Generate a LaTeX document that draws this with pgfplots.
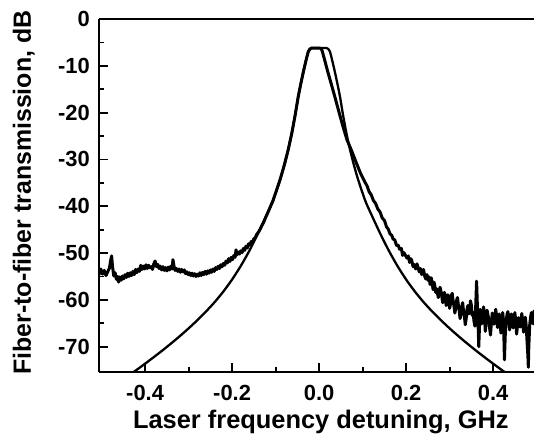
\documentclass[border=0pt]{standalone}
\usepackage{pgfplots}
\usepackage{pgfplotstable}
\pgfplotsset{compat=1.18}
\usepackage{fontspec}
\setmainfont{Liberation Sans}

% theory (smooth, symmetric)
\pgfplotstableread{
x y
-0.44 -76.30
-0.42 -74.98
-0.40 -73.62
-0.38 -72.22
-0.36 -70.78
-0.34 -69.28
-0.32 -67.72
-0.30 -66.08
-0.28 -64.34
-0.26 -62.48
-0.24 -60.46
-0.22 -58.20
-0.20 -55.64
-0.18 -52.74
-0.16 -49.44
-0.14 -45.74
-0.12 -41.74
-0.106 -38.8
-0.090 -34.4
-0.080 -31.2
-0.071 -27.9
-0.063 -24.5
-0.055 -20.5
-0.048 -16.6
-0.042 -13.8
-0.036 -11.2
-0.030 -8.8
-0.025 -7.0
-0.021 -6.4
-0.017 -6.2
0.000 -6.2
0.017 -6.2
0.021 -6.4
0.025 -7.0
0.030 -8.8
0.036 -11.2
0.042 -13.8
0.048 -16.6
0.055 -20.5
0.063 -24.5
0.071 -27.9
0.080 -31.2
0.090 -34.4
0.106 -38.8
0.12 -41.74
0.14 -45.74
0.16 -49.44
0.18 -52.74
0.20 -55.64
0.22 -58.20
0.24 -60.46
0.26 -62.48
0.28 -64.34
0.30 -66.08
0.32 -67.72
0.34 -69.28
0.36 -70.78
0.38 -72.22
0.40 -73.62
0.42 -74.98
0.44 -76.30
}\theory

% measured transmission
\pgfplotstableread{
x y
-0.510 -53.8
-0.506 -54.6
-0.502 -53.4
-0.498 -54.5
-0.494 -53.7
-0.490 -54.8
-0.486 -54.0
-0.482 -53.2
-0.479 -51.5
-0.477 -50.6
-0.475 -52.8
-0.472 -54.9
-0.469 -54.2
-0.466 -55.6
-0.463 -55.0
-0.461 -56.2
-0.458 -55.1
-0.455 -55.8
-0.452 -54.9
-0.449 -55.5
-0.446 -54.6
-0.443 -55.2
-0.440 -54.3
-0.437 -55.0
-0.434 -54.2
-0.431 -54.8
-0.428 -53.9
-0.425 -54.6
-0.422 -53.5
-0.419 -54.2
-0.416 -53.4
-0.413 -53.9
-0.410 -52.6
-0.407 -53.5
-0.404 -52.8
-0.401 -53.4
-0.398 -52.5
-0.395 -53.3
-0.392 -52.6
-0.389 -53.1
-0.386 -52.9
-0.383 -53.5
-0.380 -52.3
-0.377 -51.7
-0.374 -52.9
-0.371 -52.4
-0.368 -53.3
-0.365 -52.8
-0.362 -53.6
-0.359 -52.9
-0.356 -53.7
-0.353 -53.1
-0.350 -53.8
-0.347 -53.0
-0.344 -53.6
-0.341 -52.8
-0.338 -53.4
-0.336 -51.4
-0.334 -52.6
-0.331 -53.7
-0.328 -53.3
-0.325 -53.9
-0.322 -53.4
-0.319 -54.1
-0.316 -53.5
-0.313 -54.0
-0.310 -53.6
-0.307 -54.4
-0.304 -54.0
-0.301 -54.6
-0.298 -54.2
-0.295 -54.8
-0.292 -54.3
-0.289 -54.9
-0.286 -54.4
-0.283 -55.0
-0.280 -54.5
-0.277 -54.9
-0.274 -54.2
-0.271 -54.8
-0.268 -54.1
-0.265 -54.6
-0.262 -53.9
-0.259 -54.5
-0.256 -53.8
-0.253 -54.3
-0.250 -53.6
-0.247 -54.1
-0.244 -53.4
-0.241 -53.9
-0.238 -53.1
-0.235 -53.5
-0.232 -52.8
-0.229 -53.3
-0.226 -52.5
-0.223 -52.9
-0.220 -52.2
-0.217 -52.6
-0.214 -51.7
-0.211 -52.1
-0.208 -51.2
-0.205 -51.8
-0.202 -50.9
-0.199 -51.4
-0.196 -50.5
-0.193 -50.9
-0.191 -49.3
-0.189 -50.4
-0.186 -49.8
-0.183 -50.2
-0.180 -49.5
-0.177 -49.9
-0.174 -49.0
-0.171 -49.4
-0.168 -48.5
-0.165 -48.9
-0.162 -48.0
-0.159 -48.3
-0.156 -47.5
-0.153 -47.8
-0.150 -46.9
-0.147 -46.8
-0.144 -46.1
-0.141 -45.7
-0.138 -45.3
-0.135 -44.8
-0.132 -44.2
-0.129 -43.7
-0.126 -43.1
-0.123 -42.4
-0.120 -41.8
-0.106 -38.8
-0.090 -34.4
-0.080 -31.2
-0.071 -27.9
-0.063 -24.5
-0.055 -20.5
-0.048 -16.6
-0.042 -13.8
-0.036 -11.2
-0.030 -8.8
-0.025 -7.0
-0.021 -6.4
-0.017 -6.2
0.000 -6.2
0.004 -6.3
0.007 -6.8
0.012 -8.5
0.020 -11.3
0.028 -13.9
0.037 -16.9
0.046 -20.0
0.055 -23.0
0.064 -25.8
0.075 -28.2
0.085 -30.6
0.095 -32.9
0.105 -34.8
0.110 -35.6
0.115 -36.9
0.120 -37.6
0.125 -38.8
0.130 -39.4
0.135 -40.6
0.140 -41.2
0.145 -42.5
0.150 -43.0
0.155 -44.4
0.159 -44.9
0.163 -45.9
0.167 -46.2
0.170 -47.0
0.174 -47.2
0.178 -48.4
0.182 -48.3
0.185 -49.2
0.189 -49.0
0.192 -50.5
0.195 -49.9
0.198 -50.4
0.202 -51.1
0.205 -50.6
0.208 -52.0
0.211 -51.2
0.213 -51.6
0.216 -52.9
0.218 -52.4
0.222 -53.4
0.225 -52.3
0.228 -53.2
0.230 -54.0
0.233 -53.3
0.236 -54.6
0.240 -53.5
0.243 -55.0
0.245 -55.5
0.248 -54.6
0.250 -55.8
0.253 -55.1
0.255 -56.7
0.258 -55.3
0.262 -57.8
0.264 -56.2
0.266 -57.0
0.268 -58.4
0.270 -57.6
0.274 -59.5
0.276 -58.3
0.278 -57.3
0.280 -58.1
0.282 -59.2
0.284 -60.6
0.286 -59.8
0.288 -58.4
0.290 -59.1
0.292 -61.2
0.294 -60.5
0.296 -58.9
0.298 -59.6
0.300 -61.8
0.302 -60.9
0.304 -59.0
0.306 -58.6
0.308 -60.2
0.310 -61.3
0.312 -62.8
0.314 -61.9
0.316 -60.1
0.318 -59.5
0.320 -61.0
0.322 -62.2
0.324 -64.0
0.326 -63.1
0.328 -61.4
0.330 -60.6
0.332 -62.4
0.334 -63.5
0.336 -65.3
0.338 -64.1
0.340 -62.0
0.342 -61.2
0.344 -63.0
0.346 -62.6
0.348 -60.2
0.350 -61.1
0.352 -63.3
0.354 -62.7
0.356 -64.5
0.358 -65.6
0.360 -61.4
0.362 -56.0
0.364 -61.8
0.365 -63.5
0.367 -70.0
0.369 -64.8
0.370 -62.0
0.372 -63.4
0.374 -65.1
0.376 -63.6
0.378 -61.5
0.380 -63.0
0.382 -66.7
0.384 -64.9
0.386 -62.2
0.388 -63.1
0.390 -64.2
0.392 -66.0
0.394 -67.5
0.396 -65.0
0.398 -62.8
0.400 -63.6
0.402 -65.2
0.404 -63.9
0.406 -62.0
0.408 -63.4
0.410 -65.9
0.412 -64.6
0.414 -63.0
0.416 -65.2
0.418 -67.1
0.420 -64.8
0.422 -62.7
0.424 -64.5
0.426 -72.8
0.428 -67.3
0.430 -64.6
0.432 -63.1
0.434 -62.5
0.436 -64.0
0.438 -66.4
0.440 -64.2
0.442 -63.0
0.444 -64.1
0.446 -66.0
0.448 -64.4
0.450 -62.7
0.452 -64.6
0.454 -67.3
0.456 -65.5
0.458 -63.8
0.460 -64.7
0.462 -65.8
0.464 -64.2
0.466 -62.9
0.468 -64.8
0.470 -66.9
0.472 -65.1
0.474 -63.7
0.476 -65.4
0.478 -68.8
0.480 -72.0
0.481 -74.4
0.482 -70.2
0.484 -65.5
0.486 -63.8
0.488 -62.7
0.490 -64.3
0.492 -65.1
0.494 -62.4
0.496 -62.6
}\measured

\begin{document}
\begin{tikzpicture}
\begin{axis}[
  scale only axis,
  width=435bp, height=353bp,
  xmin=-0.506, xmax=0.494,
  ymin=-75.4, ymax=0,
  axis x line*=box, axis y line*=left,
  xtick pos=left, ytick pos=left,
  axis line style={line width=2.4bp},
  tick style={line width=1.8bp, black},
  major tick length=9bp, minor tick length=5bp,
  tick align=inside,
  xtick={-0.4,-0.2,0,0.2,0.4},
  xticklabels={-0.4,-0.2,0.0,0.2,0.4},
  minor xtick={-0.3,-0.1,0.1,0.3},
  ytick={0,-10,-20,-30,-40,-50,-60,-70},
  yticklabels={0,-10,-20,-30,-40,-50,-60,-70},
  minor ytick={-5,-15,-25,-35,-45,-55,-65},
  xticklabel style={font=\fontsize{22}{26}\selectfont\bfseries, inner sep=0pt, yshift=-13bp},
  yticklabel style={font=\fontsize{22}{26}\selectfont\bfseries, inner sep=0pt, xshift=-9bp},
  xlabel={Laser frequency detuning, GHz},
  ylabel={Fiber-to-fiber transmission, dB},
  xlabel style={font=\fontsize{25.5}{30}\selectfont\bfseries, inner sep=0pt,
    at={(axis description cs:0.51,-0.159)}, anchor=base},
  ylabel style={font=\fontsize{25}{30}\selectfont\bfseries, inner sep=0pt,
    at={(axis description cs:-0.147,0.508)}, anchor=south},
  clip=true,
]
\coordinate (bl) at (rel axis cs:0,0);
\coordinate (tr) at (rel axis cs:1,1);
\addplot[black, line width=3bp, line join=round] table[x=x,y=y] {\measured};
\addplot[black, line width=2.3bp, smooth, tension=0.4] table[x=x,y=y] {\theory};
\end{axis}
\pgfresetboundingbox
\path[use as bounding box] ([xshift=-99bp,yshift=-62bp]bl) rectangle ([yshift=19bp]tr);
\end{tikzpicture}
\end{document}
